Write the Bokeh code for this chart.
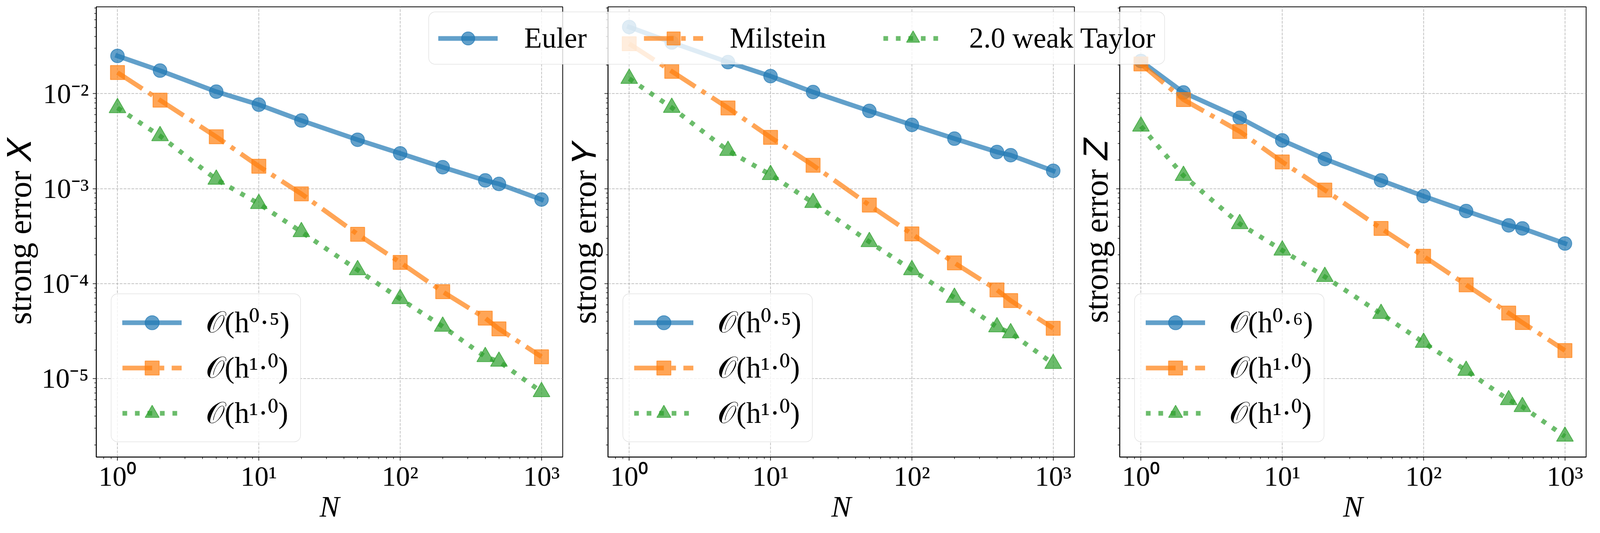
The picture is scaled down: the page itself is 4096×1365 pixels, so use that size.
from bokeh.plotting import figure
from bokeh.models import (Range1d, FixedTicker, CustomJSTickFormatter, Legend,
                          LegendItem, ColumnDataSource)
from bokeh.layouts import row, column
from bokeh.embed import file_html
from bokeh.resources import INLINE

# ---------------- data ----------------
N = [1, 2, 5, 10, 20, 50, 100, 200, 400, 500, 1000]

euler_x = [2.50e-2, 1.75e-2, 1.05e-2, 7.66e-3, 5.22e-3, 3.27e-3, 2.35e-3, 1.68e-3, 1.22e-3, 1.12e-3, 7.67e-4]
milstein_x = [1.67e-2, 8.54e-3, 3.52e-3, 1.72e-3, 8.81e-4, 3.30e-4, 1.67e-4, 8.20e-5, 4.32e-5, 3.33e-5, 1.69e-5]
taylor_x = [7.08e-3, 3.59e-3, 1.25e-3, 6.93e-4, 3.50e-4, 1.39e-4, 6.90e-5, 3.53e-5, 1.69e-5, 1.51e-5, 7.22e-6]

euler_y = [5.04e-2, 3.46e-2, 2.15e-2, 1.53e-2, 1.04e-2, 6.58e-3, 4.69e-3, 3.36e-3, 2.43e-3, 2.25e-3, 1.54e-3]
milstein_y = [3.36e-2, 1.72e-2, 7.08e-3, 3.47e-3, 1.76e-3, 6.70e-4, 3.33e-4, 1.65e-4, 8.57e-5, 6.61e-5, 3.38e-5]
taylor_y = [1.44e-2, 7.13e-3, 2.51e-3, 1.40e-3, 7.10e-4, 2.75e-4, 1.39e-4, 7.11e-5, 3.48e-5, 3.01e-5, 1.43e-5]

euler_z = [2.21e-2, 1.03e-2, 5.57e-3, 3.22e-3, 2.05e-3, 1.22e-3, 8.32e-4, 5.80e-4, 4.10e-4, 3.81e-4, 2.64e-4]
milstein_z = [2.06e-2, 8.66e-3, 4.00e-3, 1.91e-3, 9.66e-4, 3.81e-4, 1.94e-4, 9.69e-5, 4.88e-5, 3.88e-5, 1.97e-5]
taylor_z = [4.53e-3, 1.37e-3, 4.25e-4, 2.24e-4, 1.18e-4, 4.81e-5, 2.39e-5, 1.21e-5, 5.94e-6, 5.03e-6, 2.45e-6]

method_names = ["Euler", "Milstein", "2.0 weak Taylor"]
y_labels = ["strong error \U0001D44B", "strong error \U0001D44C", "strong error \U0001D44D"]
order_labels = [
    ["\U0001D4AA(h\u2070\u00b7\u2075)", "\U0001D4AA(h\u00b9\u00b7\u2070)", "\U0001D4AA(h\u00b9\u00b7\u2070)"],
    ["\U0001D4AA(h\u2070\u00b7\u2075)", "\U0001D4AA(h\u00b9\u00b7\u2070)", "\U0001D4AA(h\u00b9\u00b7\u2070)"],
    ["\U0001D4AA(h\u2070\u00b7\u2076)", "\U0001D4AA(h\u00b9\u00b7\u2070)", "\U0001D4AA(h\u00b9\u00b7\u2070)"],
]
x_major = [1, 10, 100, 1000]
y_major = [1e-5, 1e-4, 1e-3, 1e-2]

panels = [
    [euler_x, milstein_x, taylor_x],
    [euler_y, milstein_y, taylor_y],
    [euler_z, milstein_z, taylor_z],
]

# ---------------- style ----------------
COLORS = ["#1f77b4", "#ff7f0e", "#2ca02c"]
DASHES = ["solid", "76 19 12 19", "12 20"]
CAPS = ["square", "butt", "butt"]
MARKERS = ["circle", "square", "triangle"]
MSIZES = [35, 36, 43]
FONT = "Liberation Serif"
LW = 12

X_RANGE = (10 ** -0.15, 10 ** 3.15)
Y_RANGE = (10 ** -5.828, 10 ** -1.085)

FRAME_W, FRAME_H = 1194, 1153
TOP, BOTTOM = 17, 179
LEFTS = [246, 108, 108]
RIGHT = 6

SUP_JS = r"""
const sup = {"-": "\u207b", "0": "\u2070", "1": "\u00b9", "2": "\u00b2", "3": "\u00b3",
             "4": "\u2074", "5": "\u2075", "6": "\u2076", "7": "\u2077", "8": "\u2078", "9": "\u2079"};
const e = Math.round(Math.log10(tick));
return "10" + String(e).split("").map(c => sup[c]).join("");
"""

x_minor = [m * 10 ** k for k in range(-1, 4) for m in range(2, 10)]
y_minor = [m * 10.0 ** k for k in range(-7, -1) for m in range(2, 10)]


def style_axis(ax):
    ax.axis_line_width = 2
    ax.axis_line_color = "black"
    ax.major_tick_line_width = 1.7
    ax.minor_tick_line_width = 1.4
    ax.major_tick_out = 9
    ax.major_tick_in = 0
    ax.minor_tick_out = 5
    ax.minor_tick_in = 0
    ax.major_label_text_font = FONT
    ax.major_label_text_font_size = "72px"
    ax.major_label_text_color = "black"
    ax.axis_label_text_font = FONT
    ax.axis_label_text_font_size = "84px"
    ax.axis_label_text_font_style = "normal"
    ax.axis_label_text_color = "black"


def legend_style(font_size, **kw):
    leg = Legend(label_text_font=FONT, label_text_font_size=font_size,
                 label_text_color="black",
                 background_fill_color="white", background_fill_alpha=0.8,
                 border_line_color="#cccccc", border_line_alpha=0.8,
                 border_line_width=1.5, **kw)
    if "border_radius" in Legend.properties():
        leg.border_radius = 17
    return leg


figs = []
for idx in range(3):
    p = figure(x_axis_type="log", y_axis_type="log",
               x_range=Range1d(*X_RANGE), y_range=Range1d(*Y_RANGE),
               frame_width=FRAME_W, frame_height=FRAME_H,
               min_border_left=LEFTS[idx], min_border_right=RIGHT,
               min_border_top=TOP, min_border_bottom=BOTTOM,
               toolbar_location=None, output_backend="svg")
    p.background_fill_color = "white"
    p.border_fill_color = "white"
    p.outline_line_color = "black"
    p.outline_line_width = 2
    p.outline_line_alpha = 1.0

    xt = FixedTicker(ticks=x_major, minor_ticks=x_minor)
    yt = FixedTicker(ticks=y_major, minor_ticks=y_minor)
    xa = p.xaxis[0]
    ya = p.yaxis[0]
    xa.ticker = xt
    ya.ticker = yt
    p.xgrid[0].ticker = xt
    p.ygrid[0].ticker = yt
    style_axis(xa)
    style_axis(ya)
    xa.formatter = CustomJSTickFormatter(code=SUP_JS)
    xa.axis_label = "N"
    xa.axis_label_text_font_style = "italic"
    xa.axis_label_text_font_size = "76px"
    xa.major_label_standoff = 0
    xa.axis_label_standoff = -8
    ya.axis_label = y_labels[idx]
    if idx == 0:
        ya.formatter = CustomJSTickFormatter(code=SUP_JS)
        ya.major_label_standoff = 10
        ya.axis_label_standoff = 6
    else:
        ya.formatter = CustomJSTickFormatter(code="return ''")
        ya.major_label_standoff = 0
        ya.axis_label_standoff = 5

    for g in (p.xgrid[0], p.ygrid[0]):
        g.grid_line_color = "#b0b0b0"
        g.grid_line_dash = "7 3"
        g.grid_line_width = 1.5

    items = []
    for k in range(3):
        src = ColumnDataSource(dict(x=N, y=panels[idx][k]))
        ln = p.line("x", "y", source=src, line_color=COLORS[k], line_width=LW,
                    line_alpha=0.7, line_dash=DASHES[k], line_join="round",
                    line_cap=CAPS[k])
        sc = p.scatter("x", "y", source=src, marker=MARKERS[k], size=MSIZES[k],
                       fill_color=COLORS[k], fill_alpha=0.7, line_color=COLORS[k],
                       line_alpha=0.7, line_width=2)
        items.append(LegendItem(label=order_labels[idx][k], renderers=[ln, sc]))

    leg = legend_style("76px", items=items, location="bottom_left", orientation="vertical",
                       margin=38, padding=28, spacing=26,
                       glyph_width=152, glyph_height=90, label_standoff=62)
    p.add_layout(leg)
    figs.append(p)

row_h = TOP + FRAME_H + BOTTOM

# ---------------- shared top legend (overlaid, transparent figure) ----------------
# Its renderers reuse the panel-1 data, but the ranges keep them out of view,
# so only the legend entries are visible.
LEG_W, LEG_H = 1960, 140
lf = figure(width=LEG_W, height=LEG_H, x_range=Range1d(-20, -10), y_range=Range1d(-20, -10),
            min_border=0, x_axis_location=None, y_axis_location=None,
            toolbar_location=None, output_backend="svg")
lf.grid.visible = False
lf.outline_line_color = None
lf.background_fill_alpha = 0
lf.border_fill_alpha = 0
top_items = []
for k in range(3):
    src = ColumnDataSource(dict(x=N, y=panels[0][k]))
    ln = lf.line("x", "y", source=src, line_color=COLORS[k], line_width=LW,
                 line_alpha=0.7, line_dash=DASHES[k], line_join="round", line_cap=CAPS[k])
    sc = lf.scatter("x", "y", source=src, marker=MARKERS[k], size=MSIZES[k],
                    fill_color=COLORS[k], fill_alpha=0.7, line_color=COLORS[k],
                    line_alpha=0.7, line_width=2)
    top_items.append(LegendItem(label=method_names[k], renderers=[ln, sc]))
top_leg = legend_style("74px", items=top_items, location="top_left", orientation="horizontal",
                       margin=0, padding=24, spacing=146,
                       glyph_width=152, glyph_height=84, label_standoff=68)
lf.add_layout(top_leg)

LEG_TOP = 30
LEG_LEFT = 1097
lf.margin = (-(row_h - LEG_TOP), 0, row_h - LEG_TOP - LEG_H, LEG_LEFT)

layout = column(row(*figs, spacing=0), lf, spacing=0)

open("out.html", "w").write(file_html(layout, INLINE))
